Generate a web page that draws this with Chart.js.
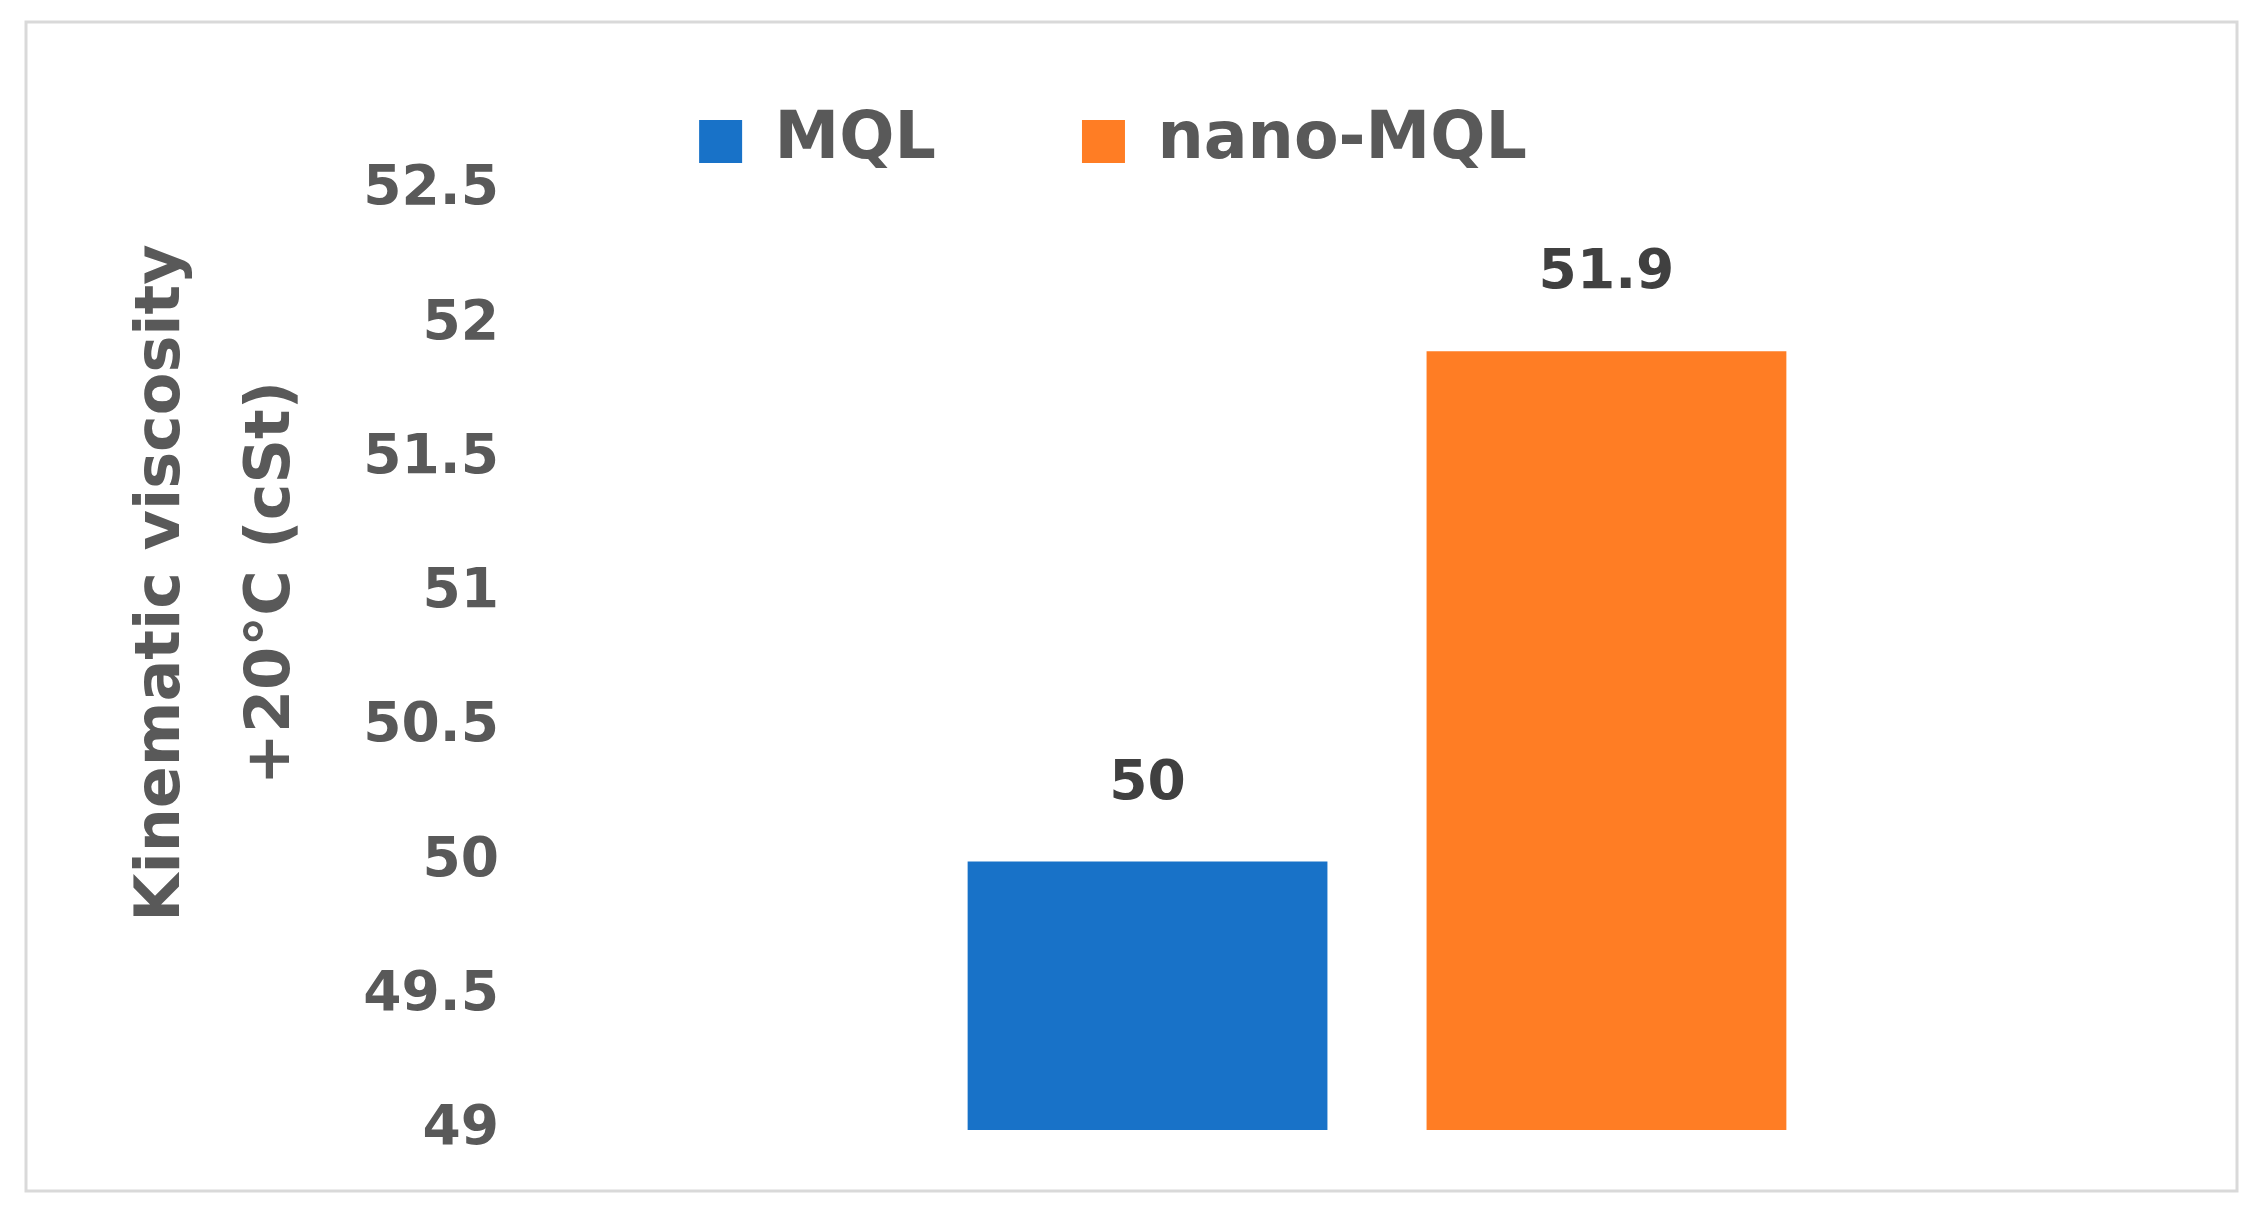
<!DOCTYPE html>
<html>
<head>
<meta charset="utf-8">
<script src="https://cdn.jsdelivr.net/npm/chart.js@4.4.1/dist/chart.umd.min.js"></script>
<style>
  html, body { margin: 0; padding: 0; background: #ffffff; overflow: hidden; }
  canvas { display: block; }
</style>
</head>
<body>
<canvas id="c" width="2256" height="1216"></canvas>
<script>
// ---- data ----
const categories = [''];
const seriesNames = ['MQL', 'nano-MQL'];
const mqlValues = [50];
const nanoMqlValues = [51.9];
const yMin = 49;
const yMax = 52.5;
const yStep = 0.5;
const yTickLabels = ['49', '49.5', '50', '50.5', '51', '51.5', '52', '52.5'];
const yTitleLines = ['Kinematic viscosity', '+20°C (cSt)'];

const seriesColors = ['#1872C8', '#FF7D24'];
const textGray = '#595959';
const labelDark = '#404040';
const FONT = 'DejaVu Sans';

Chart.defaults.font.family = FONT;

const borderPlugin = {
  id: 'frame',
  beforeDraw(chart) {
    const ctx = chart.ctx;
    ctx.save();
    ctx.fillStyle = '#ffffff';
    ctx.fillRect(0, 0, chart.width, chart.height);
    ctx.strokeStyle = '#d9d9d9';
    ctx.lineWidth = 3;
    ctx.strokeRect(26, 22, 2211, 1169);
    ctx.restore();
  }
};

const legendShift = {
  id: 'legendShift',
  afterLayout(chart) {
    const lg = chart.legend;
    if (lg) { lg.top -= 6; lg.bottom -= 6; lg.left += 5; lg.right += 5; }
  }
};

const valueLabels = {
  id: 'valueLabels',
  afterDatasetsDraw(chart) {
    const ctx = chart.ctx;
    ctx.save();
    ctx.font = 'bold 55px ' + FONT;
    ctx.fillStyle = labelDark;
    ctx.textAlign = 'center';
    ctx.textBaseline = 'middle';
    chart.data.datasets.forEach((ds, i) => {
      const meta = chart.getDatasetMeta(i);
      meta.data.forEach((bar, j) => {
        const v = ds.data[j];
        ctx.fillText(String(v), bar.x, bar.y - 77);
      });
    });
    ctx.restore();
  }
};

const yTitle = {
  id: 'yTitle',
  afterDraw(chart) {
    const ctx = chart.ctx;
    ctx.save();
    ctx.font = 'bold 62px ' + FONT;
    ctx.fillStyle = textGray;
    ctx.textAlign = 'center';
    ctx.textBaseline = 'middle';
    const xs = [163, 273];
    yTitleLines.forEach((t, i) => {
      ctx.save();
      ctx.translate(xs[i], 583);
      ctx.rotate(-Math.PI / 2);
      ctx.fillText(t, 0, 0);
      ctx.restore();
    });
    ctx.restore();
  }
};

new Chart(document.getElementById('c'), {
  type: 'bar',
  data: {
    labels: categories,
    datasets: [
      { label: seriesNames[0], data: mqlValues, backgroundColor: seriesColors[0], borderWidth: 0 },
      { label: seriesNames[1], data: nanoMqlValues, backgroundColor: seriesColors[1], borderWidth: 0 }
    ]
  },
  options: {
    responsive: false,
    devicePixelRatio: 1,
    animation: false,
    categoryPercentage: 0.547,
    barPercentage: 0.784,
    layout: { padding: { left: 0, right: 40, top: -31, bottom: 86 } },
    plugins: {
      tooltip: { enabled: false },
      legend: {
        display: true,
        position: 'top',
        labels: {
          boxWidth: 43,
          boxHeight: 43,
          padding: 146,
          color: textGray,
          font: { family: FONT, size: 65, weight: 'bold' }
        }
      }
    },
    scales: {
      x: { display: false },
      y: {
        min: yMin,
        max: yMax,
        afterFit(scale) { scale.width = 538; },
        grid: { display: false, drawTicks: false },
        border: { display: false },
        ticks: {
          stepSize: yStep,
          padding: 39,
          color: textGray,
          font: { family: FONT, size: 55, weight: 'bold' },
          callback: (value, index) => yTickLabels[index]
        }
      }
    }
  },
  plugins: [borderPlugin, legendShift, valueLabels, yTitle]
});
</script>
</body>
</html>
